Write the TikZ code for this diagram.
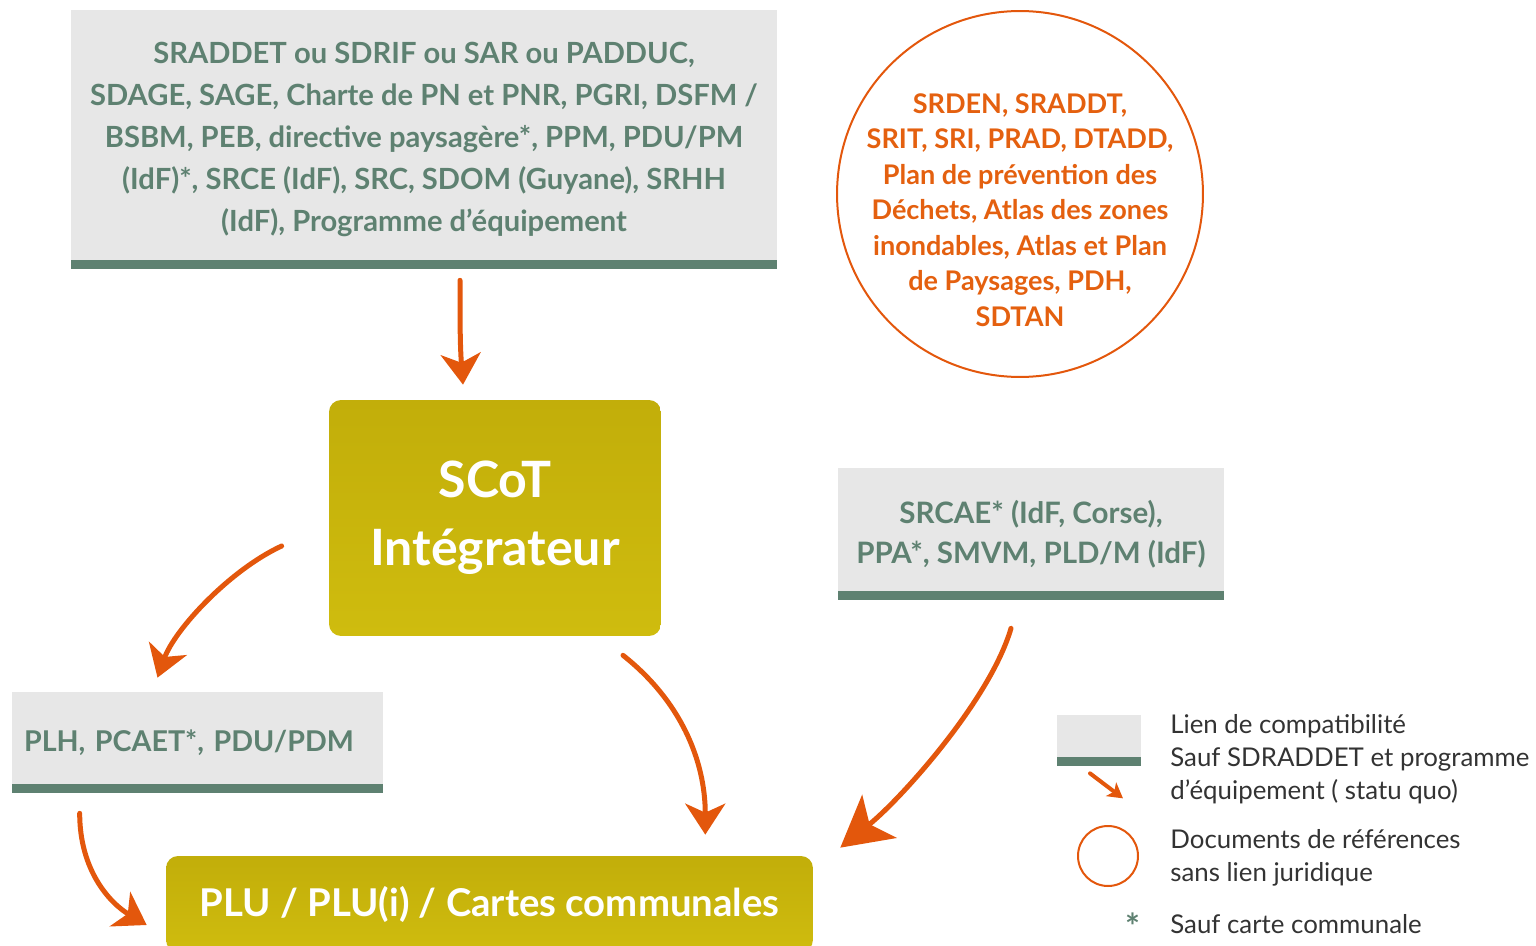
\documentclass[tikz,border=0pt]{standalone}
\usepackage{fontspec}
\setmainfont{Lato}
\usetikzlibrary{arrows.meta}
\definecolor{grisdoc}{HTML}{E7E7E7}
\definecolor{vertdoc}{HTML}{5E8171}
\definecolor{olivehaut}{HTML}{C2AE0A}
\definecolor{olivebas}{HTML}{CFBC0E}
\definecolor{orangefleche}{HTML}{E3570C}
\definecolor{orangetexte}{HTML}{E4600F}
\tikzset{
  doc/.style={fill=grisdoc, text=vertdoc, align=center, inner sep=0pt,
    font=\bfseries\fontsize{16.6}{23.8}\selectfont,
    path picture={\fill[vertdoc] (path picture bounding box.south west) rectangle ([yshift=0.18cm]path picture bounding box.south east);}},
  plan/.style={rounded corners=0.24cm, top color=olivehaut, bottom color=olivebas,
    text=white, align=center, inner sep=0pt},
  fleche/.style={draw=orangefleche, line width=0.1cm, line cap=round,
    -{Stealth[length=0.62cm,width=0.8cm,inset=0.18cm]}},
  legende/.style={anchor=west, align=left, inner sep=0pt, text=black!80,
    font=\fontsize{14.7}{18.7}\selectfont},
}
\begin{document}
\begin{tikzpicture}[x=0.02cm,y=-0.02cm]
\useasboundingbox (0,0) rectangle (1536,946);

% documents avec lien de compatibilite
\node[doc, minimum width=14.12cm, minimum height=5.18cm] (cadre) at (424,139.5)
  {SRADDET ou SDRIF ou SAR ou PADDUC,\\
   SDAGE, SAGE, Charte de PN et PNR, PGRI, DSFM /\\
   BSBM, PEB, directive paysagère*, PPM, PDU/PM\\
   (IdF)*, SRCE (IdF), SRC, SDOM (Guyane), SRHH\\
   (IdF), Programme d’équipement};
\node[doc, minimum width=7.72cm, minimum height=2.64cm,
  font=\bfseries\fontsize{16.8}{23}\selectfont] (srcae) at (1031,534)
  {SRCAE* (IdF, Corse),\\PPA*, SMVM, PLD/M (IdF)};
\node[doc, inner xsep=0.24cm, text width=6.94cm, align=left, minimum height=2.02cm,
  font=\bfseries\fontsize{16.3}{20}\selectfont] (plh) at (197.5,742.5)
  {\raisebox{-0.1cm}{PLH, PCAET*, PDU/PDM}};

% documents de reference
\node[circle, draw=orangefleche, line width=0.04cm, minimum size=7.32cm] (reference) at (1020,194) {};
\node[text=orangetexte, align=center, inner sep=0pt,
  font=\bfseries\fontsize{15.4}{20.2}\selectfont] (reftexte) at (1020,210)
  {SRDEN, SRADDT,\\SRIT, SRI, PRAD, DTADD,\\Plan de prévention des\\Déchets, Atlas des zones\\
   inondables, Atlas et Plan\\de Paysages, PDH,\\SDTAN};

% SCoT et PLU
\node[plan, minimum width=6.64cm, minimum height=4.72cm,
  font=\bfseries\fontsize{28.5}{38.6}\selectfont] (scot) at (495,518) {SCoT\\Intégrateur};
\node[plan, minimum width=12.94cm, minimum height=1.92cm,
  font=\bfseries\fontsize{21.8}{24}\selectfont] (plu) at (489.5,904)
  {PLU / PLU(i) / Cartes communales};

% fleches
\draw[fleche] ([shift={(36,11)}]cadre.south) .. controls +(0,40) and +(-3,-40) .. ([shift={(-32,-15)}]scot.north);
\draw[fleche] ([shift={(-47,28)}]scot.west) .. controls +(-52,24) and +(17,-48) .. ([shift={(-40,-14)}]plh.north);
\draw[fleche] ([shift={(128,19)}]scot.south) .. controls +(57,45) and +(0,-75) .. ([shift={(-108,-21)}]plu.north east);
\draw[fleche, -{Stealth[length=1cm,width=1.1cm,inset=0.25cm]}]
  ([shift={(-20,28)}]srcae.south) .. controls +(-21,72) and +(60,-48) .. ([shift={(27,-8)}]plu.north east);
\draw[fleche] ([shift={(68,20)}]plh.south west) .. controls +(0,57) and +(-37,-22) .. ([shift={(-19,21)}]plu.west);

% legende
\node[doc, minimum width=1.68cm, minimum height=1.02cm] (legdoc) at (1099,740.5) {};
\draw[fleche, line width=0.08cm, -{Stealth[length=0.3cm,width=0.34cm,inset=0.08cm]}]
  ([shift={(-9,7)}]legdoc.south) -- ([shift={(24,32)}]legdoc.south);
\node[circle, draw=orangefleche, line width=0.04cm, minimum size=1.2cm, inner sep=0pt] (legcercle) at (1108,856) {};
\node[text=vertdoc, inner sep=0pt, anchor=north, font=\bfseries\fontsize{20}{20}\selectfont] (legetoile) at (1133,913) {*};
\node[legende] (leglien) at (1170,759)
  {Lien de compatibilité\\Sauf SDRADDET et programme\\d’équipement ( statu quo)};
\node[legende] (legref) at (1170,857.5) {Documents de références\\sans lien juridique};
\node[legende] (legcarte) at (1170,924) {Sauf carte communale};
\end{tikzpicture}
\end{document}
